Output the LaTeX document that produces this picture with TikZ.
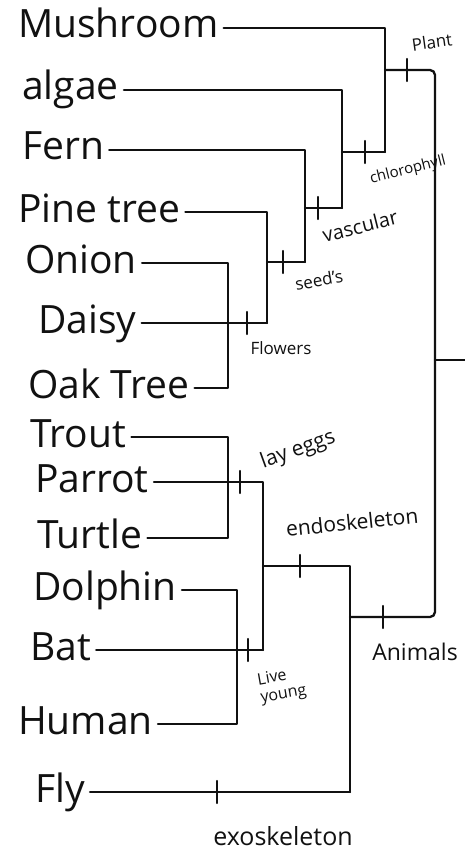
\documentclass[tikz,border=0pt]{standalone}
\usepackage{fontspec}
\setmainfont{Open Sans}
\usetikzlibrary{calc}
\definecolor{CladeInk}{HTML}{111111}
\definecolor{CladePaper}{HTML}{FFFFFF}

\begin{document}
\begin{tikzpicture}[x=1pt,y=-1pt,
    taxon/.style={anchor=west,inner ysep=0pt,inner xsep=5pt,text=CladeInk,
      text height=20pt,text depth=0pt,font=\fontsize{39}{40}\selectfont},
    trait/.style={inner sep=0pt,text=CladeInk,font=\fontsize{17}{18}\selectfont},
    branch/.style={CladeInk,line width=2.3pt,line join=round,line cap=round},
    tickmark/.style={CladeInk,line width=2.3pt,line cap=round}]
  \fill[CladePaper] (0,0) rectangle (465,853);
  \useasboundingbox (0,0) rectangle (465,853);

  % taxa, top to bottom
  \node[taxon] (mushroom) at (13,28)  {Mushroom};
  \node[taxon] (algae)    at (17,90)  {algae};
  \node[taxon] (fern)     at (17,150) {Fern};
  \node[taxon] (pine)     at (13,212) {Pine tree};
  \node[taxon] (onion)    at (20,263) {Onion};
  \node[taxon] (daisy)    at (33,323) {Daisy};
  \node[taxon] (oak)      at (23,388) {Oak Tree};
  \node[taxon] (trout)    at (25,437) {Trout};
  \node[taxon] (parrot)   at (30,482) {Parrot};
  \node[taxon] (turtle)   at (32,538) {Turtle};
  \node[taxon] (dolphin)  at (28,590) {Dolphin};
  \node[taxon] (bat)      at (25,650) {Bat};
  \node[taxon] (human)    at (13,724) {Human};
  \node[taxon] (fly)      at (30,792) {Fly};

  % junctions
  \coordinate (jPlant)  at (385,70);
  \coordinate (jChlR)   at (385,152);
  \coordinate (jChl)    at (342,152);
  \coordinate (jVascR)  at (342,208);
  \coordinate (jVasc)   at (305,208);
  \coordinate (jSeedsR) at (305,262);
  \coordinate (jSeeds)  at (267,262);
  \coordinate (jFlwR)   at (267,323);
  \coordinate (jFlw)    at (228,323);
  \coordinate (jEggs)   at (228,482);
  \coordinate (jEggsR)  at (263,482);
  \coordinate (jEndo)   at (263,566);
  \coordinate (jLiveR)  at (263,650);
  \coordinate (jLive)   at (237,650);
  \coordinate (jEndoR)  at (350,566);
  \coordinate (jAnim)   at (350,617);
  \coordinate (jExoR)   at (350,792);
  \coordinate (rootTop) at (435,70);
  \coordinate (root)    at (435,360);
  \coordinate (rootBot) at (435,617);
  \coordinate (rootEnd) at (465,360);

  % plants
  \draw[branch] (mushroom.east) -- (mushroom.east -| jPlant) -- (jChlR);
  \draw[branch] (algae.east) -- (algae.east -| jChl) -- (jVascR);
  \draw[branch] (jChl) -- (jChlR);
  \draw[branch] (fern.east) -- (fern.east -| jVasc) -- (jSeedsR);
  \draw[branch] (jVasc) -- (jVascR);
  \draw[branch] (pine.east) -- (pine.east -| jSeeds) -- (jFlwR);
  \draw[branch] (jSeeds) -- (jSeedsR);
  \draw[branch] (onion.east) -- (onion.east -| jFlw)
    -- (oak.east -| jFlw) -- (oak.east);
  \draw[branch] (daisy.east) -- (jFlwR);

  % animals
  \draw[branch] (trout.east) -- (trout.east -| jEggs)
    -- (turtle.east -| jEggs) -- (turtle.east);
  \draw[branch] (parrot.east) -- (jEggsR) -- (jLiveR);
  \draw[branch] (dolphin.east) -- (dolphin.east -| jLive)
    -- (human.east -| jLive) -- (human.east);
  \draw[branch] (bat.east) -- (jLiveR);
  \draw[branch] (jEndo) -- (jEndoR) -- (jExoR);
  \draw[branch] (fly.east) -- (jExoR);

  % root
  \draw[branch,rounded corners=5pt] (jPlant) -- (rootTop) -- (rootBot) -- (jAnim);
  \draw[branch] (root) -- (rootEnd);

  % trait ticks
  \foreach \tx/\ty in {407/70,365/152,318/208,283/262,247/323,
                  240/482,300/566,383/617,248/650,217/792}
    \draw[tickmark] (\tx,\ty) ++(0,-11) -- ++(0,22);

  % trait labels
  \node[trait,rotate=8]  (lPlant) at (432,42)  {Plant};
  \node[trait,rotate=14,font=\fontsize{15}{16}\selectfont]
    (lChl) at (408,170) {chlorophyll};
  \node[trait,rotate=14,font=\fontsize{20}{21}\selectfont]
    (lVasc) at (360,226) {vascular};
  \node[trait,rotate=10] (lSeeds) at (319,280) {seed's};
  \node[trait]           (lFlw)   at (281,348) {Flowers};
  \node[trait,rotate=20,font=\fontsize{21}{22}\selectfont]
    (lEggs) at (298,450) {lay eggs};
  \node[trait,rotate=6,font=\fontsize{21}{22}\selectfont]
    (lEndo) at (352,522) {endoskeleton};
  \node[trait,rotate=10,align=left,font=\fontsize{16}{18}\selectfont]
    (lLive) at (282,686) {Live\\young};
  \node[trait,font=\fontsize{23}{24}\selectfont]
    (lAnim) at (415,652) {Animals};
  \node[trait,font=\fontsize{25}{26}\selectfont]
    (lExo) at (283,836) {exoskeleton};
\end{tikzpicture}
\end{document}
